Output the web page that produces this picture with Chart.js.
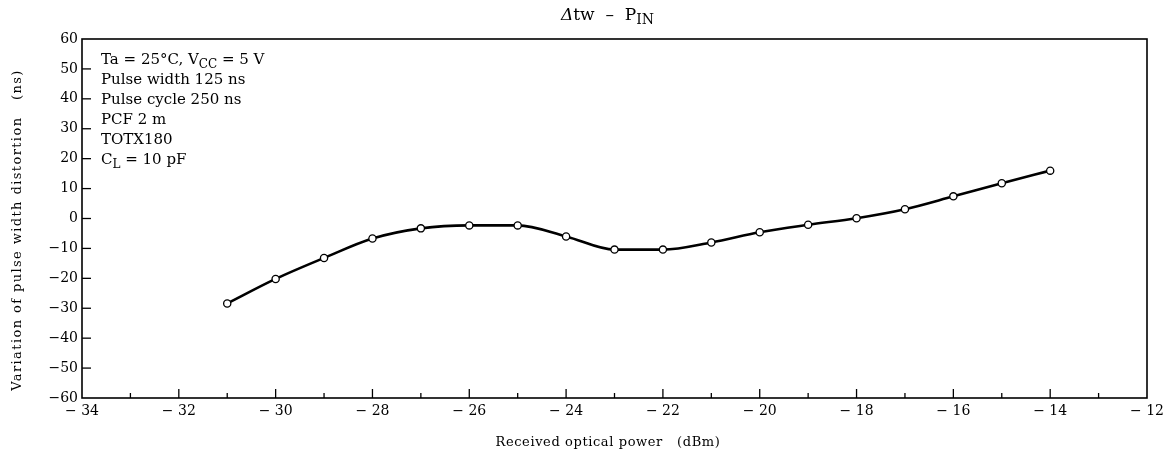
<!DOCTYPE html>
<html>
<head>
<meta charset="utf-8">
<script src="https://cdn.jsdelivr.net/npm/chart.js@4/dist/chart.umd.min.js"></script>
<style>
  html, body { margin: 0; padding: 0; background: #fff; }
  #wrap { width: 1164px; height: 459px; }
</style>
</head>
<body>
<div id="wrap"><canvas id="mychart"></canvas></div>
<script>
// received optical power (dBm)
const powerIn = [-31, -30, -29, -28, -27, -26, -25, -24, -23, -22, -21, -20, -19, -18, -17, -16, -15, -14];
// variation of pulse width distortion (ns)
const deltaTw = [-28.4, -20.2, -13.2, -6.7, -3.3, -2.3, -2.3, -6, -10.4, -10.4, -8, -4.6, -2.1, 0.1, 3.1, 7.4, 11.8, 16];

const xTicks = [-34, -32, -30, -28, -26, -24, -22, -20, -18, -16, -14, -12];
const yTicks = [-60, -50, -40, -30, -20, -10, 0, 10, 20, 30, 40, 50, 60];

const serif = '"DejaVu Serif", "Liberation Serif", serif';
const minus = v => (v < 0 ? '\u2212' + Math.abs(v) : String(v));

// text with subscripts: parts = [[text, sub?], ...]
function drawParts(ctx, parts, x, y, size) {
    let cx = x;
    parts.forEach(p => {
        const sub = p[1];
        ctx.font = (sub ? size - 3 : size) + 'px ' + serif;
        ctx.fillText(p[0], cx, sub ? y + 4 : y);
        cx += ctx.measureText(p[0]).width;
    });
}

const decor = {
    id: 'decor',
    afterDraw(chart) {
        const ctx = chart.ctx;
        const a = chart.chartArea;
        const xs = chart.scales.x, ys = chart.scales.y;
        ctx.save();
        ctx.strokeStyle = '#000';
        // frame
        ctx.lineWidth = 1.6;
        ctx.strokeRect(a.left, a.top, a.right - a.left, a.bottom - a.top);
        ctx.lineWidth = 1.3;
        // inward ticks
        for (let v = -33; v < -12; v++) {
            const px = xs.getPixelForValue(v);
            const len = (v % 2 === 0) ? 9 : 5;
            ctx.beginPath();
            ctx.moveTo(px, a.bottom);
            ctx.lineTo(px, a.bottom - len);
            ctx.stroke();
        }
        yTicks.forEach(v => {
            if (v === -60 || v === 60) return;
            const py = ys.getPixelForValue(v);
            ctx.beginPath();
            ctx.moveTo(a.left, py);
            ctx.lineTo(a.left + 9, py);
            ctx.stroke();
        });

        ctx.fillStyle = '#000';
        ctx.textBaseline = 'alphabetic';
        ctx.textAlign = 'left';
        // title
        ctx.font = 'italic 17px ' + serif;
        ctx.fillText('\u0394', 561, 20);
        const dw = ctx.measureText('\u0394').width;
        drawParts(ctx, [['tw  \u2013  P', false], ['IN', true]], 561 + dw, 20, 17);

        // condition notes
        const lx = 101;
        drawParts(ctx, [['Ta = 25\u00B0C, V', false], ['CC', true], [' = 5 V', false]], lx, 64, 15);
        drawParts(ctx, [['Pulse width 125 ns', false]], lx, 84, 15);
        drawParts(ctx, [['Pulse cycle 250 ns', false]], lx, 104, 15);
        drawParts(ctx, [['PCF 2 m', false]], lx, 124, 15);
        drawParts(ctx, [['TOTX180', false]], lx, 144, 15);
        drawParts(ctx, [['C', false], ['L', true], [' = 10 pF', false]], lx, 164, 15);

        // axis titles
        ctx.font = '13px ' + serif;
        ctx.textAlign = 'center';
        ctx.letterSpacing = '0.6px';
        ctx.fillText('Received optical power   (dBm)', 608, 446);
        ctx.letterSpacing = '1.4px';
        ctx.translate(21, 230);
        ctx.rotate(-Math.PI / 2);
        ctx.fillText('Variation of pulse width distortion   (ns)', 0, 0);
        ctx.restore();
    }
};

const ctx = document.getElementById('mychart');
new Chart(ctx, {
    type: 'line',
    data: {
        datasets: [{
            data: powerIn.map((p, i) => ({ x: p, y: deltaTw[i] })),
            borderColor: '#000',
            borderWidth: 2.6,
            cubicInterpolationMode: 'monotone',
            pointRadius: 3.6,
            pointBorderWidth: 1.3,
            pointBackgroundColor: '#fff',
            pointBorderColor: '#000',
            fill: false
        }]
    },
    plugins: [decor],
    options: {
        responsive: true,
        maintainAspectRatio: false,
        animation: false,
        events: [],
        layout: { padding: { left: 0, top: 39, right: 17, bottom: 0 } },
        scales: {
            x: {
                type: 'linear',
                min: -34,
                max: -12,
                afterBuildTicks: s => { s.ticks = xTicks.map(v => ({ value: v })); },
                afterFit: s => { s.height = 61; s.paddingLeft = 0; s.paddingRight = 0; },
                grid: { display: false, drawTicks: false },
                border: { display: false },
                ticks: {
                    padding: 5,
                    color: '#000',
                    font: { family: serif, size: 14 },
                    callback: v => minus(v).replace('\u2212', '\u2212 ')
                }
            },
            y: {
                min: -60,
                max: 60,
                afterBuildTicks: s => { s.ticks = yTicks.map(v => ({ value: v })); },
                afterFit: s => { s.width = 82; s.paddingTop = 0; s.paddingBottom = 0; },
                grid: { display: false, drawTicks: false },
                border: { display: false },
                ticks: {
                    padding: 4,
                    color: '#000',
                    font: { family: serif, size: 14 },
                    callback: v => minus(v)
                }
            }
        },
        plugins: {
            legend: { display: false },
            tooltip: { enabled: false }
        }
    }
});
</script>
</body>
</html>
